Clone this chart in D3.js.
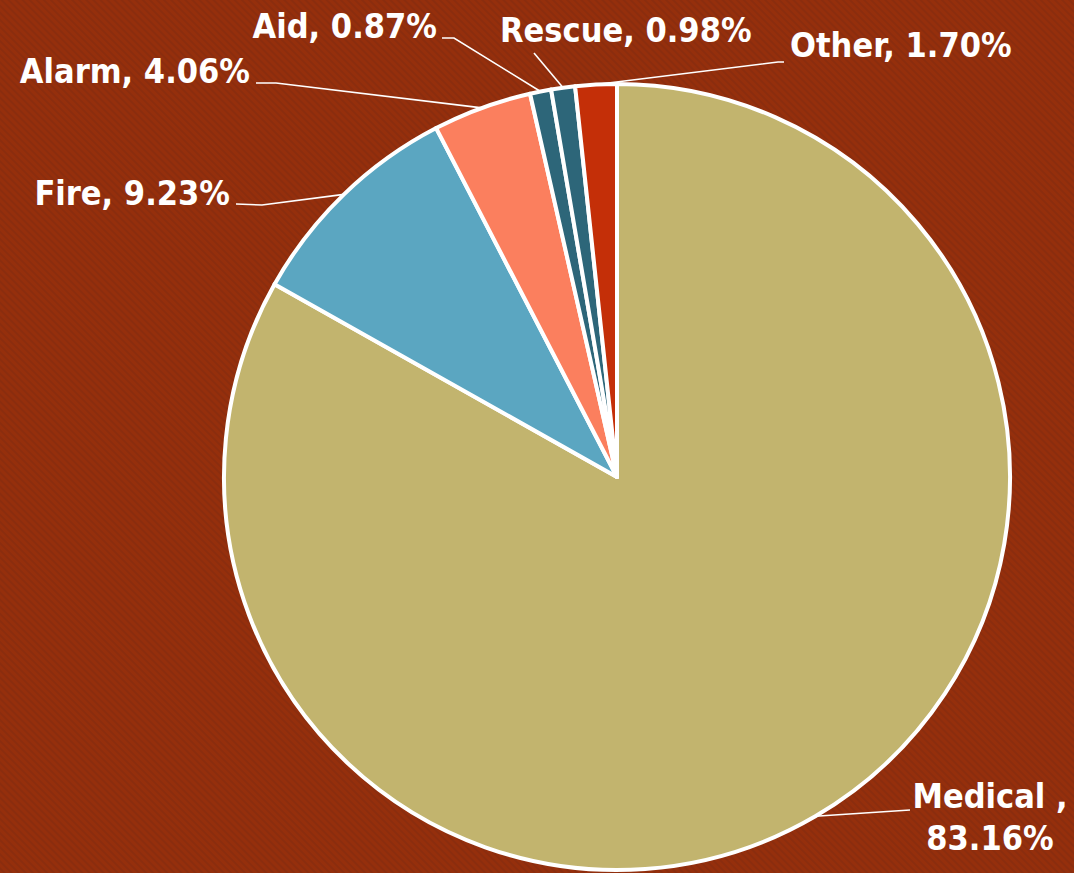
<!DOCTYPE html>
<html>
<head>
<meta charset="utf-8">
<script src="https://cdn.jsdelivr.net/npm/d3@7"></script>
<style>
  html, body { margin: 0; padding: 0; background: #942f0d; overflow: hidden; }
  svg { display: block; }
  .lbl { font-family: "DejaVu Sans Condensed", "DejaVu Sans", sans-serif; font-stretch: condensed; font-weight: bold; font-size: 34px; fill: #fff; }
</style>
</head>
<body>
<div id="chart"></div>
<script>
// Incident types, share of calls (%)
const categories = ["Medical", "Fire", "Alarm", "Aid", "Rescue", "Other"];
const shares = [83.16, 9.23, 4.06, 0.87, 0.98, 1.70];
const labelNames = ["Medical ,", "Fire", "Alarm", "Aid", "Rescue", "Other"];
const sliceColors = ["#c2b46e", "#5ba6c1", "#fb7f5e", "#2d6679", "#2d6679", "#c42f08"];

const width = 1074;
const height = 873;
const cx = 617, cy = 477, radius = 393;

// where each label sits (baseline) and the elbow of its leader line
const labelLayout = {
    Medical: { x: 990, y: 808, anchor: "middle", elbow: [910, 810], twoLines: true },
    Fire:    { x: 230, y: 205, anchor: "end", elbow: [236, 204, 262, 205] },
    Alarm:   { x: 250, y: 83,  anchor: "end", elbow: [256, 83, 276, 83] },
    Aid:     { x: 437, y: 38,  anchor: "end", elbow: [442, 38, 454, 38] },
    Rescue:  { x: 500, y: 42,  anchor: "start", elbow: [534, 53] },
    Other:   { x: 790, y: 57,  anchor: "start", elbow: [784, 62, 778, 62] }
};

const svg = d3.select("#chart")
    .append("svg")
    .attr("width", width)
    .attr("height", height);

// faint diagonal stripes on the background
const defs = svg.append("defs");
const pat = defs.append("pattern")
    .attr("id", "stripes")
    .attr("width", 5)
    .attr("height", 5)
    .attr("patternUnits", "userSpaceOnUse")
    .attr("patternTransform", "rotate(-45)");
pat.append("rect").attr("width", 5).attr("height", 5).attr("fill", "#952f0c");
pat.append("rect").attr("width", 2).attr("height", 5).attr("fill", "#8b2d0e");

svg.append("rect")
    .attr("width", width)
    .attr("height", height)
    .attr("fill", "url(#stripes)");

const data = categories.map((c, i) => ({ name: c, value: shares[i], label: labelNames[i], color: sliceColors[i] }));

const pie = d3.pie().sort(null).value(d => d.value);
const arc = d3.arc().innerRadius(0).outerRadius(radius);
const arcs = pie(data);

const g = svg.append("g").attr("transform", `translate(${cx},${cy})`);

g.selectAll("path.slice")
    .data(arcs)
    .enter()
    .append("path")
    .attr("class", "slice")
    .attr("d", arc)
    .attr("fill", d => d.data.color)
    .attr("stroke", "#fff")
    .attr("stroke-width", 4)
    .attr("stroke-linejoin", "round");

// leader lines + labels
arcs.forEach((d, i) => {
    const lay = labelLayout[d.data.name];
    const mid = (d.startAngle + d.endAngle) / 2;
    const px = cx + radius * Math.sin(mid);
    const py = cy - radius * Math.cos(mid);

    const pts = [];
    for (let k = 0; k < lay.elbow.length; k += 2) pts.push([lay.elbow[k], lay.elbow[k + 1]]);
    pts.push([px, py]);

    svg.append("path")
        .attr("d", d3.line()(pts))
        .attr("fill", "none")
        .attr("stroke", "#fff")
        .attr("stroke-width", 1.6);

    const pct = shares[i].toFixed(2) + "%";
    const t = svg.append("text")
        .attr("class", "lbl")
        .attr("x", lay.x)
        .attr("y", lay.y)
        .attr("text-anchor", lay.anchor);

    if (lay.twoLines) {
        t.append("tspan").attr("x", lay.x).text(d.data.label);
        t.append("tspan").attr("x", lay.x).attr("dy", 42).text(pct);
    } else {
        t.text(d.data.label + ", " + pct);
    }
});
</script>
</body>
</html>
